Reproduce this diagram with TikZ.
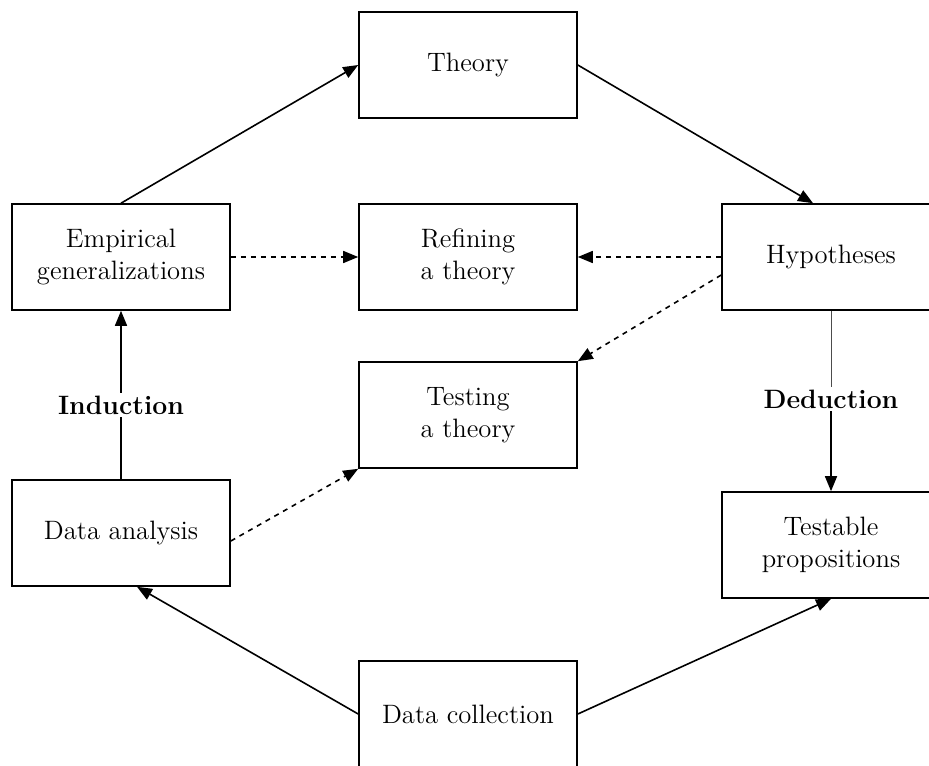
\documentclass[tikz,border=0pt]{standalone}
\usepackage{tikz}
\usetikzlibrary{arrows.meta}

\begin{document}
\begin{tikzpicture}[x=0.5pt, y=-0.5pt, line width=0.8pt,
  box/.style={draw, minimum width=109pt, minimum height=53pt, align=center,
    font=\fontsize{13.3}{16}\selectfont},
  lbl/.style={font=\fontsize{13.3}{16}\selectfont\bfseries, inner sep=1pt},
  arr/.style={-{Triangle[length=7.5pt, width=6pt]}},
  dsh/.style={arr, dash pattern=on 2.5pt off 2.5pt}]
\clip (0,0) rectangle (929,765);
\node[box] (T) at (468,65) {Theory};
\node[box] (E) at (121,257) {Empirical\\generalizations};
\node[box] (R) at (468,257) {Refining\\a theory};
\node[box] (H) at (831,257) {Hypotheses};
\node[box] (G) at (468,415) {Testing\\a theory};
\node[box] (A) at (121,533) {Data analysis};
\node[box] (P) at (831,545) {Testable\\propositions};
\node[box] (C) at (468,714) {Data collection};
\node[lbl] (I) at (121,405) {Induction};
\node[lbl] (D) at (831,399) {Deduction};
\draw[arr] (E.north) -- (T.west);
\draw[arr] (T.east) -- ([xshift=-9pt]H.north);
\draw[line width=0.5pt, black!70] (H.south) -- (D.north);
\draw[arr] (D.south) -- (P.north);
\draw[arr] (C.east) -- (P.south);
\draw[arr] (C.west) -- ([xshift=8pt]A.south);
\draw (A.north) -- (I.south);
\draw[arr] (I.north) -- (E.south);
\draw[dsh] (E.east) -- (R.west);
\draw[dsh] (H.west) -- (R.east);
\draw[dsh] ([yshift=-9pt]H.west) -- (G.north east);
\draw[dsh] ([yshift=-4pt]A.east) -- (G.south west);
\end{tikzpicture}
\end{document}
